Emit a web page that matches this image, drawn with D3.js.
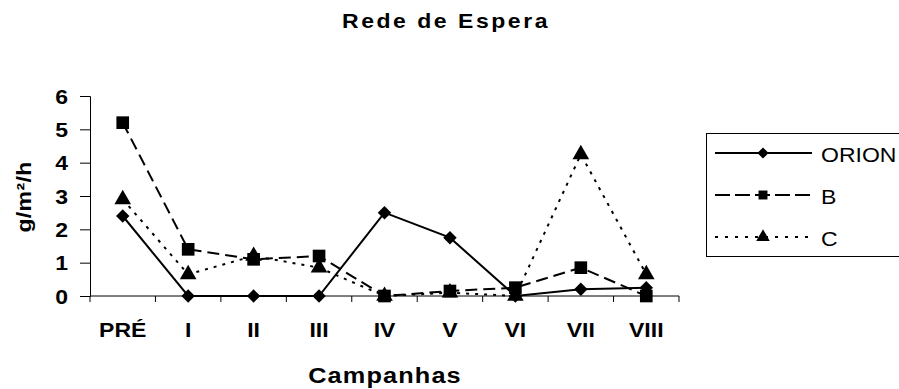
<!DOCTYPE html>
<html>
<head>
<meta charset="utf-8">
<script src="https://cdn.jsdelivr.net/npm/d3@7"></script>
<style>
  body { margin: 0; background: #fff; }
  text { font-family: "Liberation Sans", Arial, sans-serif; fill: #000; }
</style>
</head>
<body>
<svg id="chart" width="899" height="389"></svg>
<script>
// categorias e séries
const campanhas = ['PRÉ', 'I', 'II', 'III', 'IV', 'V', 'VI', 'VII', 'VIII'];
const orion = [2.4, 0, 0, 0, 2.5, 1.75, 0, 0.2, 0.25];
const serieB = [5.2, 1.4, 1.1, 1.2, 0, 0.15, 0.25, 0.85, 0];
const serieC = [2.9, 0.65, 1.2, 0.85, 0, 0.1, 0, 4.25, 0.65];
const yTicks = [0, 1, 2, 3, 4, 5, 6];

const series = [
  { name: 'ORION', values: orion, dash: null, legendDash: null, symbol: d3.symbolDiamond2, size: 115 },
  { name: 'B', values: serieB, dash: '12,6', legendDash: '15,5', symbol: d3.symbolSquare, size: 160 },
  { name: 'C', values: serieC, dash: '3,6', legendDash: '3,7', symbol: d3.symbolTriangle, size: 120 }
];

const SX = 1.15; // o texto original é um pouco mais largo

const svg = d3.select('#chart');
const plot = { left: 90, right: 679, top: 96, bottom: 296 };

const x = d3.scaleBand().domain(campanhas).range([plot.left, plot.right]);
const y = d3.scaleLinear().domain([0, 6]).range([plot.bottom, plot.top]);

function wideText(parent, tx, ty, txt, size, bold, ls, anchor, rot) {
  return parent.append('text')
    .attr('transform', `translate(${tx},${ty})${rot ? ' rotate(' + rot + ')' : ''} scale(${SX},1)`)
    .attr('text-anchor', anchor || 'start')
    .style('font-size', size + 'px')
    .style('font-weight', bold ? 'bold' : 'normal')
    .style('letter-spacing', ls + 'px')
    .text(txt);
}

// título
wideText(svg, 342, 28, 'Rede de Espera', 20, true, 2.2);

// eixo y
const yAxis = svg.append('g')
  .attr('transform', `translate(${plot.left},0)`)
  .call(d3.axisLeft(y).tickValues(yTicks).tickSize(10).tickPadding(12).tickFormat(d3.format('d')));
yAxis.select('.domain').attr('stroke', '#000').attr('stroke-width', 1);
yAxis.selectAll('.tick line').attr('stroke', '#000');
yAxis.selectAll('text')
  .attr('x', -22 / SX)
  .attr('transform', `scale(${SX},1)`)
  .style('font-size', '20px').style('font-weight', 'bold')
  .attr('font-family', null).attr('dy', '0.36em');

// eixo x
const xAxisG = svg.append('g').attr('transform', `translate(0,${plot.bottom})`);
xAxisG.append('line')
  .attr('x1', plot.left).attr('x2', plot.right)
  .attr('stroke', '#000');
const bounds = d3.range(campanhas.length + 1).map(i => plot.left + i * x.step());
xAxisG.selectAll('.tk').data(bounds).join('line')
  .attr('x1', d => d).attr('x2', d => d)
  .attr('y1', 0).attr('y2', 6)
  .attr('stroke', '#000');
campanhas.forEach(c => {
  wideText(xAxisG, x(c) + x.bandwidth() / 2, 41, c, 20, true, 0, 'middle');
});

// títulos dos eixos
wideText(svg, 385, 383, 'Campanhas', 22, true, 1, 'middle');
wideText(svg, 31, 197, 'g/m²/h', 20, true, 0.3, 'middle', -90);

// linhas
const line = d3.line()
  .x((d, i) => x(campanhas[i]) + x.bandwidth() / 2)
  .y(d => y(d));

series.forEach(s => {
  svg.append('path')
    .datum(s.values)
    .attr('d', line)
    .attr('fill', 'none')
    .attr('stroke', '#000')
    .attr('stroke-width', 2)
    .attr('stroke-dasharray', s.dash);
});

series.forEach(s => {
  svg.append('g').selectAll('path')
    .data(s.values)
    .join('path')
    .attr('transform', (d, i) => `translate(${x(campanhas[i]) + x.bandwidth() / 2},${y(d)})`)
    .attr('d', d3.symbol().type(s.symbol).size(s.size))
    .attr('fill', '#000');
});

// legenda
const legend = svg.append('g');
legend.append('rect')
  .attr('x', 706.5).attr('y', 133.5)
  .attr('width', 200).attr('height', 123)
  .attr('fill', '#fff').attr('stroke', '#000');

const ly = d3.scalePoint().domain(series.map(s => s.name)).range([153, 237]);
series.forEach(s => {
  const g = legend.append('g').attr('transform', `translate(0,${ly(s.name)})`);
  g.append('line')
    .attr('x1', 715).attr('x2', 812)
    .attr('stroke', '#000').attr('stroke-width', 2)
    .attr('stroke-dasharray', s.legendDash);
  g.append('path')
    .attr('transform', 'translate(763,0)')
    .attr('d', d3.symbol().type(s.symbol).size(80))
    .attr('fill', '#000');
  wideText(g, 821, 9, s.name, 20, false, 0);
});
</script>
</body>
</html>
